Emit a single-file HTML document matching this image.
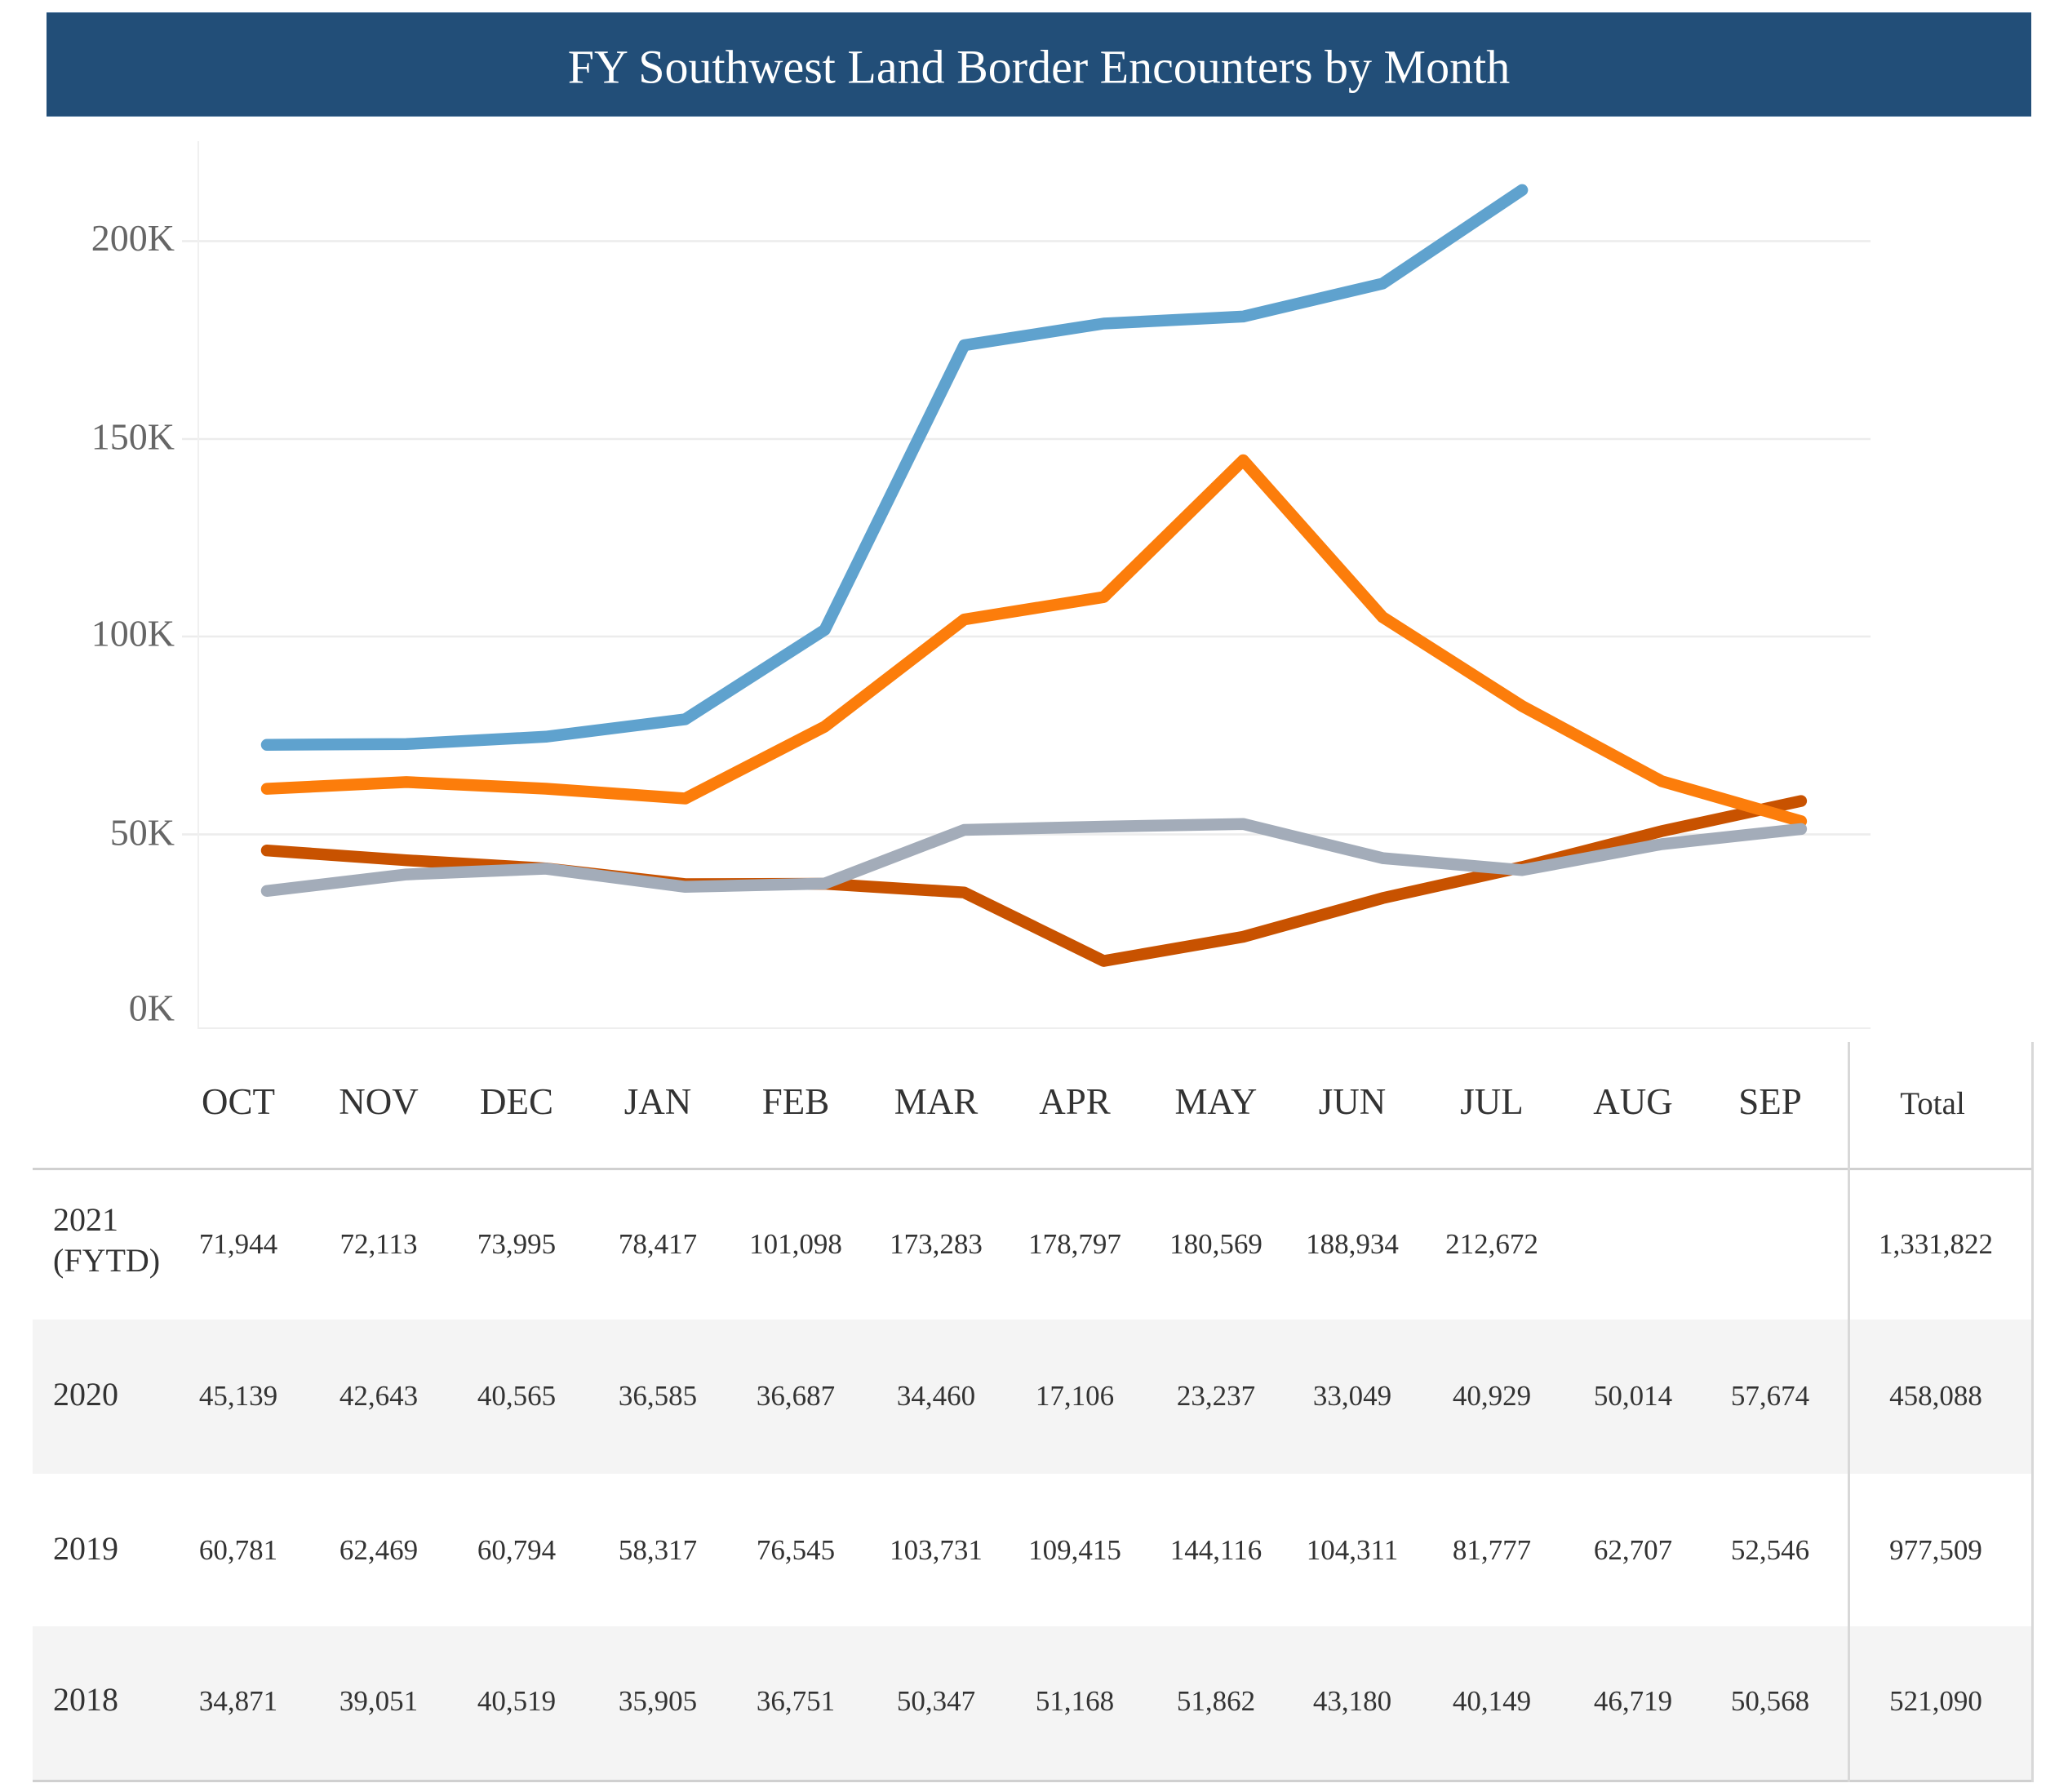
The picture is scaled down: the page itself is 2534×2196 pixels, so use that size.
<!DOCTYPE html>
<html>
<head>
<meta charset="utf-8">
<style>
  html, body { margin:0; padding:0; background:#ffffff; }
  body { width:2534px; height:2196px; overflow:hidden; }
  svg { display:block; }
  text { font-family: "Liberation Serif", "Times New Roman", serif; }
</style>
</head>
<body>
<svg width="2534" height="2196" viewBox="0 0 2534 2196" xmlns="http://www.w3.org/2000/svg">
  <rect x="0" y="0" width="2534" height="2196" fill="#ffffff"/>

  <!-- Title banner -->
  <rect x="57" y="15" width="2432" height="128" fill="#224e78"/>
  <rect x="57" y="15" width="2432" height="1" fill="#5a7fa3"/>
  <rect x="57" y="142" width="2432" height="1" fill="#5a7fa3"/>
  <text x="1273" y="101.5" font-size="58" fill="#ffffff" text-anchor="middle">FY Southwest Land Border Encounters by Month</text>

  <!-- Gridlines -->
  <g stroke="#ececec" stroke-width="2.5">
    <line x1="223" y1="295.5" x2="2292" y2="295.5"/>
    <line x1="223" y1="538" x2="2292" y2="538"/>
    <line x1="223" y1="780" x2="2292" y2="780"/>
    <line x1="223" y1="1022.5" x2="2292" y2="1022.5"/>
  </g>
  <!-- Axes -->
  <line x1="243" y1="173" x2="243" y2="1261" stroke="#f0f0f0" stroke-width="2"/>
  <line x1="243" y1="1260" x2="2292" y2="1260" stroke="#eeeeee" stroke-width="2"/>

  <!-- Y labels -->
  <g font-size="46" fill="#666666" text-anchor="end">
    <text x="214" y="307">200K</text>
    <text x="214" y="550.5">150K</text>
    <text x="214" y="791.5">100K</text>
    <text x="214" y="1035.5">50K</text>
    <text x="214" y="1250.5">0K</text>
  </g>

  <!-- Series -->
  <g fill="none" stroke-width="14.5" stroke-linecap="round" stroke-linejoin="round">
    <!-- 2020 -->
    <polyline stroke="#c85200" points="327,1042.2 497.9,1054.2 668.8,1064.2 839.7,1083.5 1010.6,1083.0 1181.5,1093.7 1352.4,1177.6 1523.3,1148.0 1694.2,1100.6 1865.1,1062.5 2036,1018.6 2206.9,981.6"/>
    <!-- 2019 -->
    <polyline stroke="#fc7d0b" points="327,966.6 497.9,958.4 668.8,966.5 839.7,978.5 1010.6,890.4 1181.5,759.1 1352.4,731.7 1523.3,564.0 1694.2,756.3 1865.1,865.2 2036,957.3 2206.9,1006.4"/>
    <!-- 2018 -->
    <polyline stroke="#a3acb9" points="327,1091.8 497.9,1071.6 668.8,1064.5 839.7,1086.8 1010.6,1082.7 1181.5,1017.0 1352.4,1013.0 1523.3,1009.7 1694.2,1051.6 1865.1,1066.3 2036,1034.5 2206.9,1015.9"/>
    <!-- 2021 -->
    <polyline stroke="#5fa2ce" points="327,912.7 497.9,911.8 668.8,902.8 839.7,881.4 1010.6,771.8 1181.5,423.1 1352.4,396.5 1523.3,387.9 1694.2,347.5 1865.1,232.9"/>
  </g>

  <!-- Table shading -->
  <rect x="40" y="1617" width="2449" height="189" fill="#f4f4f4"/>
  <rect x="40" y="1993" width="2449" height="188" fill="#f4f4f4"/>

  <!-- Table lines -->
  <rect x="40" y="1431" width="2449" height="3" fill="#d0d0d0"/>
  <rect x="40" y="2181" width="2449" height="3" fill="#d0d0d0"/>
  <rect x="2264" y="1277" width="3" height="907" fill="#d8d8d8"/>
  <rect x="2489" y="1277" width="3" height="907" fill="#d8d8d8"/>

  <!-- Header -->
  <g font-size="45" fill="#333333" text-anchor="middle">
    <text x="292" y="1365">OCT</text>
    <text x="464" y="1365">NOV</text>
    <text x="633" y="1365">DEC</text>
    <text x="806" y="1365">JAN</text>
    <text x="975" y="1365">FEB</text>
    <text x="1147" y="1365">MAR</text>
    <text x="1317" y="1365">APR</text>
    <text x="1490" y="1365">MAY</text>
    <text x="1657" y="1365">JUN</text>
    <text x="1828" y="1365">JUL</text>
    <text x="2001" y="1365">AUG</text>
    <text x="2169" y="1365">SEP</text>
  </g>
  <text x="2368" y="1365" font-size="39" fill="#333333" text-anchor="middle">Total</text>

  <!-- Row labels -->
  <g font-size="40" fill="#333333">
    <text x="65" y="1508">2021</text>
    <text x="65" y="1558">(FYTD)</text>
    <text x="65" y="1722">2020</text>
    <text x="65" y="1911">2019</text>
    <text x="65" y="2096">2018</text>
  </g>

  <!-- Row values -->
  <g font-size="35" fill="#333333" text-anchor="middle">
    <!-- 2021 -->
    <text x="292" y="1536">71,944</text>
    <text x="464" y="1536">72,113</text>
    <text x="633" y="1536">73,995</text>
    <text x="806" y="1536">78,417</text>
    <text x="975" y="1536">101,098</text>
    <text x="1147" y="1536">173,283</text>
    <text x="1317" y="1536">178,797</text>
    <text x="1490" y="1536">180,569</text>
    <text x="1657" y="1536">188,934</text>
    <text x="1828" y="1536">212,672</text>
    <text x="2372" y="1536">1,331,822</text>
    <!-- 2020 -->
    <text x="292" y="1722">45,139</text>
    <text x="464" y="1722">42,643</text>
    <text x="633" y="1722">40,565</text>
    <text x="806" y="1722">36,585</text>
    <text x="975" y="1722">36,687</text>
    <text x="1147" y="1722">34,460</text>
    <text x="1317" y="1722">17,106</text>
    <text x="1490" y="1722">23,237</text>
    <text x="1657" y="1722">33,049</text>
    <text x="1828" y="1722">40,929</text>
    <text x="2001" y="1722">50,014</text>
    <text x="2169" y="1722">57,674</text>
    <text x="2372" y="1722">458,088</text>
    <!-- 2019 -->
    <text x="292" y="1911">60,781</text>
    <text x="464" y="1911">62,469</text>
    <text x="633" y="1911">60,794</text>
    <text x="806" y="1911">58,317</text>
    <text x="975" y="1911">76,545</text>
    <text x="1147" y="1911">103,731</text>
    <text x="1317" y="1911">109,415</text>
    <text x="1490" y="1911">144,116</text>
    <text x="1657" y="1911">104,311</text>
    <text x="1828" y="1911">81,777</text>
    <text x="2001" y="1911">62,707</text>
    <text x="2169" y="1911">52,546</text>
    <text x="2372" y="1911">977,509</text>
    <!-- 2018 -->
    <text x="292" y="2096">34,871</text>
    <text x="464" y="2096">39,051</text>
    <text x="633" y="2096">40,519</text>
    <text x="806" y="2096">35,905</text>
    <text x="975" y="2096">36,751</text>
    <text x="1147" y="2096">50,347</text>
    <text x="1317" y="2096">51,168</text>
    <text x="1490" y="2096">51,862</text>
    <text x="1657" y="2096">43,180</text>
    <text x="1828" y="2096">40,149</text>
    <text x="2001" y="2096">46,719</text>
    <text x="2169" y="2096">50,568</text>
    <text x="2372" y="2096">521,090</text>
  </g>
</svg>
</body>
</html>
